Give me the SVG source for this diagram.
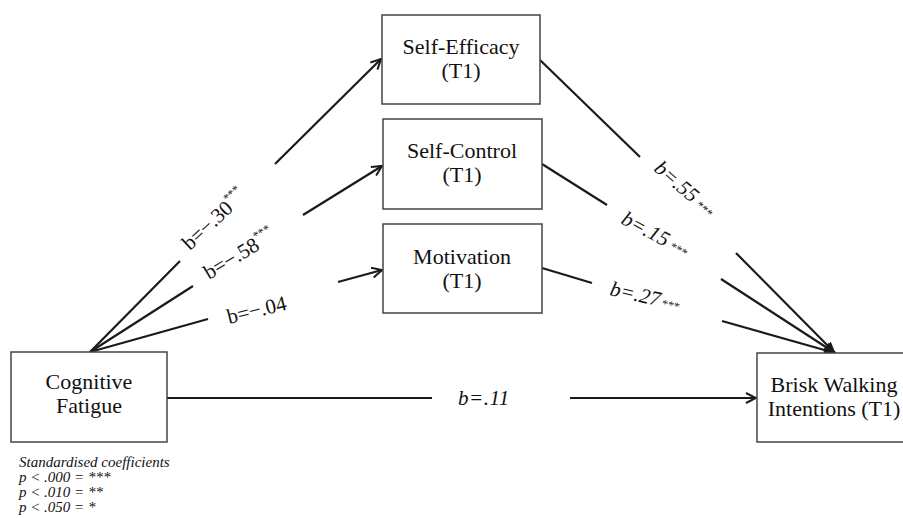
<svg xmlns="http://www.w3.org/2000/svg" width="903" height="518" viewBox="0 0 903 518">
<style>
.box{fill:#fff;stroke:#444;stroke-width:1.5}
.nt{font-family:'Liberation Serif','Times New Roman',serif;font-size:22px;fill:#111;text-anchor:middle}
.ln{stroke:#1a1a1a;stroke-width:2.2;fill:none}
.lb{font-family:'Liberation Serif','Times New Roman',serif;font-size:21px;fill:#111}
.it{font-style:italic}
.st{font-size:12px}
.lg{font-family:'Liberation Serif','Times New Roman',serif;font-size:15px;font-style:italic;fill:#111}
</style>
<defs>
<marker id="ah" viewBox="0 0 12 12" refX="11" refY="6" markerWidth="12" markerHeight="12" markerUnits="userSpaceOnUse" orient="auto">
<path d="M1,1 L11,6 L1,11" fill="none" stroke="#1a1a1a" stroke-width="2"/>
</marker>
<marker id="ahf" viewBox="0 0 12 12" refX="11" refY="6" markerWidth="12" markerHeight="12" markerUnits="userSpaceOnUse" orient="auto">
<path d="M0,1 L12,6 L0,11 Z" fill="#1a1a1a"/>
</marker>
</defs>
<rect width="903" height="518" fill="#fff"/>
<g id="connectors">
<line class="ln" x1="90" y1="352" x2="180" y2="261"/>
<line class="ln" x1="275" y1="164" x2="381" y2="59" marker-end="url(#ah)"/>
<line class="ln" x1="90" y1="352" x2="193" y2="286"/>
<line class="ln" x1="303" y1="215" x2="382" y2="166" marker-end="url(#ah)"/>
<line class="ln" x1="90" y1="352" x2="208" y2="319"/>
<line class="ln" x1="338" y1="282" x2="382" y2="270" marker-end="url(#ah)"/>
<line class="ln" x1="540" y1="60" x2="640" y2="157"/>
<line class="ln" x1="736" y1="253" x2="835" y2="353" marker-end="url(#ahf)"/>
<line class="ln" x1="542" y1="164" x2="607" y2="205"/>
<line class="ln" x1="721" y1="279" x2="835" y2="353" marker-end="url(#ahf)"/>
<line class="ln" x1="542" y1="268" x2="592" y2="283"/>
<line class="ln" x1="722" y1="321" x2="835" y2="353" marker-end="url(#ahf)"/>
<line class="ln" x1="167" y1="398" x2="432" y2="398"/>
<line class="ln" x1="570" y1="398" x2="756" y2="398" marker-end="url(#ah)"/>
<text class="lb" transform="translate(190,251) rotate(-43)">b=−.30<tspan class="st" dy="-10">***</tspan></text>
<text class="lb" transform="translate(209,280) rotate(-31)">b=−.58<tspan class="st" dy="-10">***</tspan></text>
<text class="lb" transform="translate(229,324) rotate(-14)">b=−.04</text>
<text class="lb it" transform="translate(653,170) rotate(41)">b=.55<tspan class="st" dx="4">***</tspan></text>
<text class="lb it" transform="translate(620,223) rotate(28)">b=.15<tspan class="st" dx="4">***</tspan></text>
<text class="lb it" transform="translate(609,295) rotate(13)">b=.27<tspan class="st" dx="2">***</tspan></text>
<text class="lb it" x="458" y="405" letter-spacing="0.5">b=.11</text>
</g>
<g id="self-efficacy">
<rect class="box" x="382" y="15" width="158" height="89"/>
<text class="nt"><tspan x="461" y="54">Self-Efficacy</tspan><tspan x="461" y="78">(T1)</tspan></text>
</g>
<g id="self-control">
<rect class="box" x="383" y="119" width="159" height="90"/>
<text class="nt"><tspan x="462" y="158">Self-Control</tspan><tspan x="462" y="182">(T1)</tspan></text>
</g>
<g id="motivation">
<rect class="box" x="383" y="224" width="159" height="89"/>
<text class="nt"><tspan x="462" y="264">Motivation</tspan><tspan x="462" y="288">(T1)</tspan></text>
</g>
<g id="cognitive-fatigue">
<rect class="box" x="11" y="352" width="156" height="90"/>
<text class="nt"><tspan x="89" y="389">Cognitive</tspan><tspan x="89" y="413">Fatigue</tspan></text>
</g>
<g id="brisk-walking">
<rect class="box" x="757" y="353" width="160" height="89"/>
<text class="nt"><tspan x="834" y="392">Brisk Walking</tspan><tspan x="834" y="416">Intentions (T1)</tspan></text>
</g>
<g id="legend">
<text class="lg"><tspan x="19" y="467">Standardised coefficients</tspan><tspan x="19" y="482">p &lt; .000 = ***</tspan><tspan x="19" y="497">p &lt; .010 = **</tspan><tspan x="19" y="512">p &lt; .050 = *</tspan></text>
</g>
</svg>
